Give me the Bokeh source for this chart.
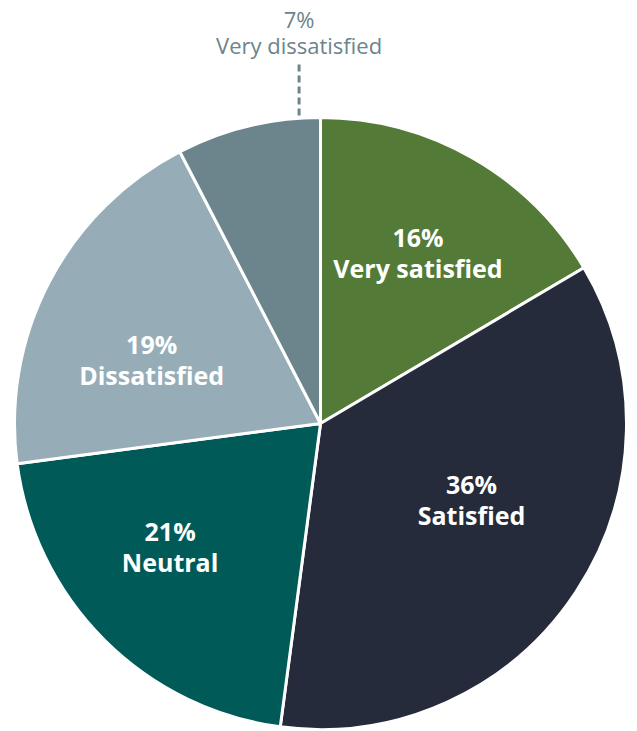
import numpy as np
from bokeh.plotting import figure
from bokeh.models import ColumnDataSource, Range1d
from bokeh.core.properties import value
from bokeh.embed import file_html
from bokeh.resources import INLINE

# ---- data ----
categories = ["Very satisfied", "Satisfied", "Neutral", "Dissatisfied", "Very dissatisfied"]
shares = [16.5, 35.6, 20.8, 19.5, 7.6]
pct_labels = ["16%", "36%", "21%", "19%", "7%"]
colors = ["#537b37", "#252b3a", "#005b58", "#96adb8", "#6c848c"]

# ---- layout / style constants ----
W, H = 637, 731
R_PX = 306
CX, CY = 320, 423
FONT = "Open Sans"
BASE_FIX = -9  # px correction for baseline placement
# per-label placement nudges (degrees, radius fraction) for inner labels
label_nudge_deg = [0.0, -6.5, 5.5, -6.8]
label_radius = [0.643, 0.554, 0.637, 0.59]

vals = np.array(shares, dtype=float)
frac = vals / vals.sum()
cum = np.concatenate([[0.0], np.cumsum(frac)])
start = np.pi / 2 - 2 * np.pi * cum[:-1]
end = np.pi / 2 - 2 * np.pi * cum[1:]
mid = (start + end) / 2

p = figure(width=W, height=H,
           x_range=Range1d(-CX / R_PX, (W - CX) / R_PX),
           y_range=Range1d(-(H - CY) / R_PX, CY / R_PX),
           output_backend="svg", toolbar_location=None, min_border=0)
p.axis.visible = False
p.grid.visible = False
p.outline_line_color = None

src = ColumnDataSource(dict(start=start, end=end, color=colors, cat=categories))
p.wedge(x=0, y=0, radius=1.0, start_angle="start", end_angle="end", direction="clock",
        fill_color="color", line_color="white", line_width=3, source=src)

# inner labels (all but last)
inner = list(range(len(categories) - 1))
ang = [mid[i] - np.deg2rad(label_nudge_deg[i]) for i in inner]
lx = [label_radius[i] * np.cos(ang[i]) for i in inner]
ly = [label_radius[i] * np.sin(ang[i]) for i in inner]
isrc = ColumnDataSource(dict(x=lx, y=ly, pct=[pct_labels[i] for i in inner],
                             cat=[categories[i] for i in inner]))
p.text(x="x", y="y", text="pct", source=isrc, text_align="center", text_baseline="alphabetic",
       y_offset=-7 + BASE_FIX, text_color="white", text_font=value(FONT), text_font_style="bold",
       text_font_size="25px")
p.text(x="x", y="y", text="cat", source=isrc, text_align="center", text_baseline="alphabetic",
       y_offset=24 + BASE_FIX, text_color="white", text_font=value(FONT), text_font_style="bold",
       text_font_size="25px")

# outer label for last slice with dashed leader
k = len(categories) - 1
ox = -0.07
p.segment(x0=[ox], y0=[1.0065], x1=[ox], y1=[1.18], line_color=colors[k],
          line_width=3, line_dash="7 4")
p.text(x=[ox], y=[1.294], text=[pct_labels[k]], text_align="center", text_baseline="alphabetic",
       y_offset=BASE_FIX, text_color=colors[k], text_font=value(FONT), text_font_size="22px")
p.text(x=[ox], y=[1.206], text=[categories[k]], text_align="center", text_baseline="alphabetic",
       y_offset=BASE_FIX, text_color=colors[k], text_font=value(FONT), text_font_size="22px")

open("out.html", "w").write(file_html(p, INLINE))
